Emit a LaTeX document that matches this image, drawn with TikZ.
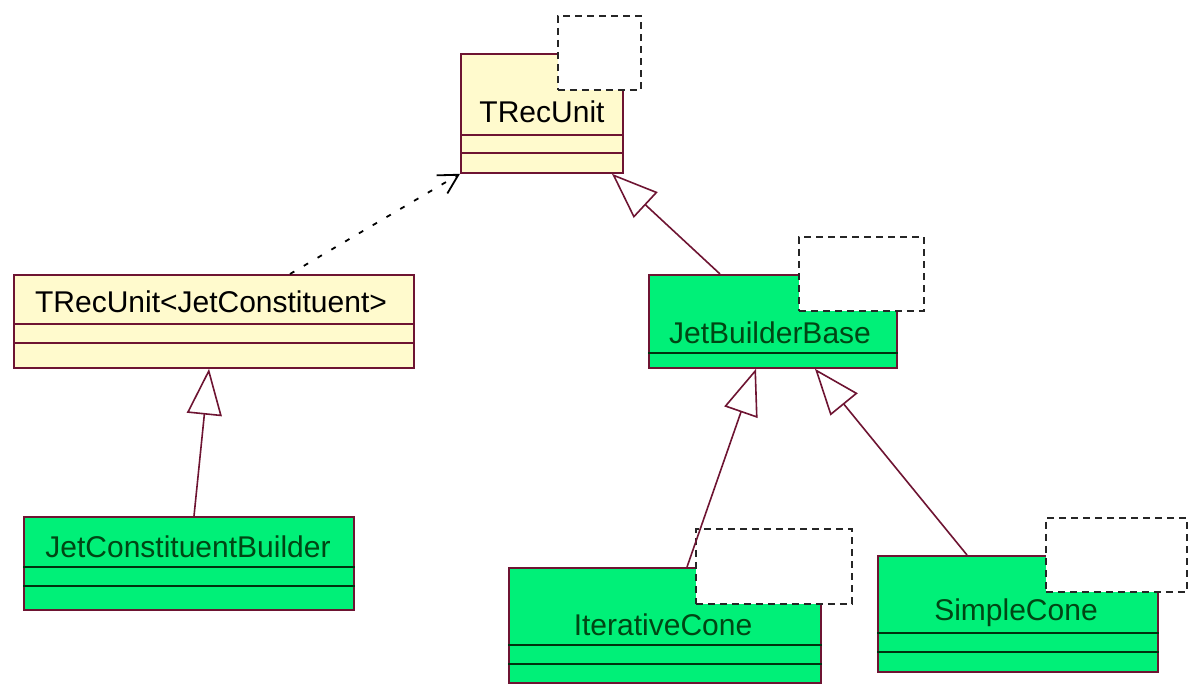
\documentclass[tikz,border=0pt]{standalone}
\usepackage{fontspec}
\setmainfont{Liberation Sans}
\usetikzlibrary{arrows.meta,calc}
\definecolor{ybg}{RGB}{255,250,205}
\definecolor{gbg}{RGB}{0,240,120}
\definecolor{bord}{RGB}{110,20,50}
\definecolor{gtext}{RGB}{0,70,20}
\begin{document}
\begin{tikzpicture}[x=1pt,y=-1pt,
  boxbase/.style={draw=bord,line width=1.8pt,rectangle,inner sep=0pt,anchor=north west},
  ybox/.style={boxbase,fill=ybg},
  gbox/.style={boxbase,fill=gbg},
  tmpl/.style={draw=black!85,fill=white,line width=1.9pt,dash pattern=on 7pt off 5pt,rectangle,inner sep=0pt,anchor=north west},
  ytext/.style={font=\fontsize{30}{36}\selectfont,text=black,inner sep=0pt},
  gtxt/.style={font=\fontsize{30}{36}\selectfont,text=gtext,inner sep=0pt},
  sep/.style={draw=bord,line width=1.8pt},
  gsep/.style={draw=gtext!70!black,line width=1.8pt},
  gen/.style={draw=bord,line width=1.6pt,-{Triangle[open,length=46pt,width=35pt,fill=white]}},
  dep/.style={draw=black,line width=1.8pt,dash pattern=on 5pt off 11pt,-{Straight Barb[length=19pt,width=21pt]}}
]
\useasboundingbox[fill=white] (0,0) rectangle (1199,683);

% class boxes
\node[ybox,minimum width=162pt,minimum height=119pt] (trec) at (460,53) {};
\node[ybox,minimum width=400pt,minimum height=93pt] (tjc) at (13,274) {};
\node[gbox,minimum width=248pt,minimum height=93pt] (jbb) at (648,274) {};
\node[gbox,minimum width=330pt,minimum height=93pt] (jcb) at (23,516) {};
\node[gbox,minimum width=312pt,minimum height=115pt] (ic) at (508,567) {};
\node[gbox,minimum width=280pt,minimum height=116pt] (sc) at (877,555) {};

% compartment separators
\draw[sep] ($(trec.north west)+(0,82)$) -- ($(trec.north east)+(0,82)$);
\draw[sep] ($(trec.north west)+(0,100)$) -- ($(trec.north east)+(0,100)$);
\draw[sep] ($(tjc.north west)+(0,50)$) -- ($(tjc.north east)+(0,50)$);
\draw[sep] ($(tjc.north west)+(0,69)$) -- ($(tjc.north east)+(0,69)$);
\draw[gsep] ($(jbb.north west)+(0,79)$) -- ($(jbb.north east)+(0,79)$);
\draw[gsep] ($(jcb.north west)+(0,51)$) -- ($(jcb.north east)+(0,51)$);
\draw[gsep] ($(jcb.north west)+(0,70)$) -- ($(jcb.north east)+(0,70)$);
\draw[gsep] ($(ic.north west)+(0,78)$) -- ($(ic.north east)+(0,78)$);
\draw[gsep] ($(ic.north west)+(0,97)$) -- ($(ic.north east)+(0,97)$);
\draw[gsep] ($(sc.north west)+(0,78)$) -- ($(sc.north east)+(0,78)$);
\draw[gsep] ($(sc.north west)+(0,97)$) -- ($(sc.north east)+(0,97)$);

% template parameter boxes
\node[tmpl,minimum width=83pt,minimum height=74pt] (trecT) at (557,15) {};
\node[tmpl,minimum width=125pt,minimum height=74pt] (jbbT) at (798,236) {};
\node[tmpl,minimum width=156pt,minimum height=75pt] (icT) at (695,528) {};
\node[tmpl,minimum width=141pt,minimum height=74pt] (scT) at (1045,517) {};

% class names
\node[ytext] (trecL) at (542,112) {TRecUnit};
\node[ytext] (tjcL) at (211,302) {TRecUnit<JetConstituent>};
\node[gtxt] (jbbL) at (770,333) {JetBuilderBase};
\node[gtxt] (jcbL) at (188,547) {JetConstituentBuilder};
\node[gtxt] (icL) at (663,625) {IterativeCone};
\node[gtxt] (scL) at (1016,613) {SimpleCone};

% connectors
\draw[dep] ($(tjc.north west)+(277,0)$) -- (trec.south west);
\draw[gen] ($(jbb.north west)+(72,0)$) -- ($(trec.south west)+(152,0)$);
\draw[gen] ($(jcb.north west)+(171,0)$) -- ($(tjc.south west)+(196,0)$);
\draw[gen] ($(ic.north west)+(179,0)$) -- ($(jbb.south west)+(108,0)$);
\draw[gen] ($(sc.north west)+(90,0)$) -- ($(jbb.south west)+(167,0)$);
\end{tikzpicture}
\end{document}
